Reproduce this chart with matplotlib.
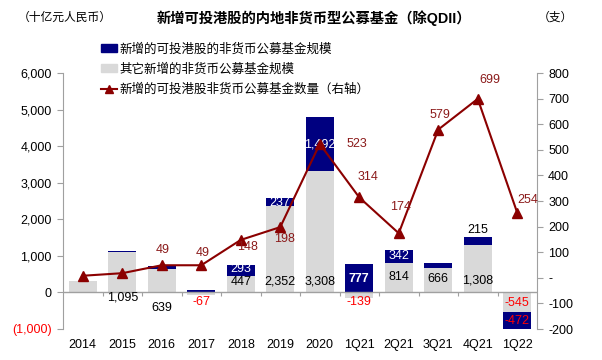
import matplotlib
matplotlib.use("Agg")
import matplotlib.pyplot as plt
import numpy as np
from matplotlib.patches import Patch
from matplotlib.lines import Line2D
from matplotlib.ticker import FixedLocator, FuncFormatter

plt.rcParams['font.family'] = ['Liberation Sans', 'Noto Sans CJK SC']

# ---- data ----
categories = ['2014', '2015', '2016', '2017', '2018', '2019', '2020',
              '1Q21', '2Q21', '3Q21', '4Q21', '1Q22']
other_scale = [300, 1095, 639, -67, 447, 2352, 3308, -139, 814, 666, 1308, -545]
hk_scale = [0, 30, 70, 55, 293, 237, 1492, 777, 342, 140, 215, -472]
fund_count = [8, 18, 49, 49, 148, 198, 523, 314, 174, 579, 699, 254]

other_labels = [None, '1,095', '639', '-67', '447', '2,352', '3,308', '-139', '814', '666', '1,308', '-545']
hk_labels = [None, None, None, None, '293', '237', '1,492', '777', '342', None, '215', '-472']
count_labels = [None, None, '49', '49', '148', '198', '523', '314', '174', '579', '699', '254']

# ---- label layout (left-axis y for bar labels, pixel offsets for line labels) ----
other_label_y = [0, -137, -438, -274, 290, 300, 300, -250, 410, 380, 330, -290]
hk_label_y = [0, 0, 0, 0, 640, 2440, 4050, 380, 990, 0, 1700, -770]
count_offsets = [(0, 0), (0, 0), (1, 15), (1, 12), (7, -7), (4, -12), (37, 0),
                 (9, 20), (2, 26), (2, 15), (12, 19), (10, 13)]

NAVY = '#000080'
GRAY = '#D9D9D9'
LINE = '#8B0000'
LBL = '#8B1A1A'
RED = '#FF0000'

fig = plt.figure(figsize=(6.02, 3.60), dpi=100)
ax = fig.add_axes([63/602, 1-329/360, (537-63)/602, (329-73)/360])
x = np.arange(len(categories))
w = 0.72

other = np.array(other_scale, dtype=float)
hk = np.array(hk_scale, dtype=float)
hk_bottom = np.where(hk >= 0, np.maximum(other, 0), np.minimum(other, 0))

ax.bar(x, other, width=w, color=GRAY, zorder=2)
ax.bar(x, hk, width=w, bottom=hk_bottom, color=NAVY, zorder=2)

ax.set_xlim(-0.5, len(categories) - 0.5)
ax.set_ylim(-1000, 6000)
ax.yaxis.set_major_locator(FixedLocator(np.arange(-1000, 6001, 1000)))
def lfmt(v, p):
    if v < 0:
        return '({:,.0f})'.format(-v)
    return '{:,.0f}'.format(v)
ax.yaxis.set_major_formatter(FuncFormatter(lfmt))
ax.tick_params(axis='y', labelsize=9, length=4, color='#A0A0A0', pad=4)
for t in ax.get_yticklabels():
    if t.get_text().startswith('('):
        t.set_color(RED)

for s in ['top', 'right', 'bottom']:
    ax.spines[s].set_visible(False)
ax.spines['left'].set_color('#A0A0A0')

ax.axhline(0, color='#A0A0A0', lw=1, zorder=3)
ax.vlines(np.arange(0.5, len(categories) - 0.5, 1.0), -100, 0, color='#A0A0A0', lw=0.8, zorder=3)

ax.set_xticks(x)
ax.set_xticklabels(categories, fontsize=9)
ax.tick_params(axis='x', length=0, pad=7)

# bar labels
for i in range(len(categories)):
    if other_labels[i]:
        c = RED if other[i] < 0 else 'black'
        ax.text(x[i], other_label_y[i], other_labels[i], ha='center', va='center',
                fontsize=9, color=c, zorder=5)
    if hk_labels[i]:
        if hk[i] < 0:
            c = RED
        elif i == 10:
            c = 'black'
        else:
            c = 'white'
        fw = 'bold' if i == 7 else 'normal'
        ax.text(x[i], hk_label_y[i], hk_labels[i], ha='center', va='center',
                fontsize=9, color=c, fontweight=fw, zorder=5)

# right axis line
ax2 = ax.twinx()
ax2.set_ylim(-200, 800)
ax2.plot(x, fund_count, color=LINE, lw=1.5, marker='^', markersize=6.5, zorder=4)
ax2.yaxis.set_major_locator(FixedLocator(np.arange(-200, 801, 100)))
ax2.yaxis.set_major_formatter(FuncFormatter(lambda v, p: '-' if v == 0 else '{:.0f}'.format(v)))
ax2.tick_params(axis='y', labelsize=9, length=4, color='#A0A0A0', pad=4)
for s in ['top', 'left', 'bottom']:
    ax2.spines[s].set_visible(False)
ax2.spines['right'].set_color('#A0A0A0')

for i in range(len(categories)):
    if count_labels[i]:
        dx, dy = count_offsets[i]
        ax2.annotate(count_labels[i], (x[i], fund_count[i]), xytext=(dx, dy),
                     textcoords='offset pixels', ha='center', va='center',
                     fontsize=9, color=LBL, zorder=6)

# titles
fig.text(314/602, 1-18/360, '新增可投港股的内地非货币型公募基金（除QDII）',
         ha='center', va='center', fontsize=10.3, fontweight='bold')
fig.text(18/602, 1-18/360, '（十亿元人民币）', ha='left', va='center', fontsize=8.5)
fig.text(555/602, 1-18/360, '（支）', ha='center', va='center', fontsize=8.5)

handles = [Patch(color=NAVY), Patch(color=GRAY),
           Line2D([0], [0], color=LINE, lw=1.5, marker='^', markersize=6)]
labels = ['新增的可投港股的非货币公募基金规模', '其它新增的非货币公募基金规模',
          '新增的可投港股非货币公募基金数量（右轴）']
fig.legend(handles, labels, loc='upper left', bbox_to_anchor=(101/602, 1-43/360),
           frameon=False, fontsize=9, handlelength=1.3, handleheight=0.6,
           handletextpad=0.15, labelspacing=0.62, borderpad=0, borderaxespad=0)

fig.savefig('out.png', dpi=100)
